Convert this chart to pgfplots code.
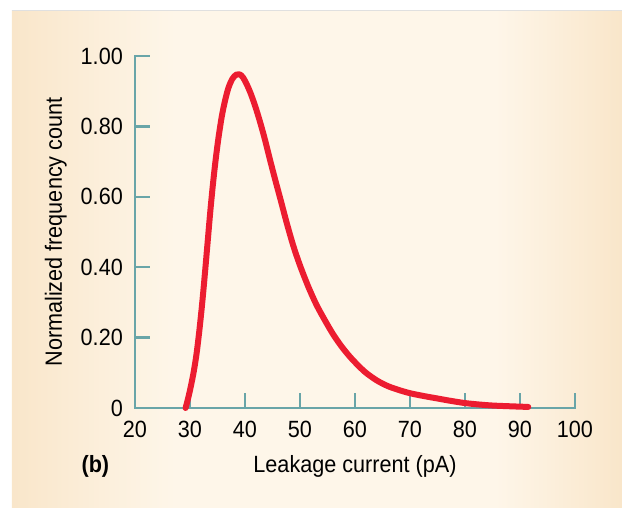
\documentclass[border=0pt]{standalone}
\usepackage{pgfplots}
\pgfplotsset{compat=1.18}
\usepackage{fontspec}
\setmainfont{Liberation Sans}[FakeStretch=0.92]

\definecolor{axisteal}{RGB}{105,165,168}
\definecolor{curvered}{RGB}{236,28,48}
\definecolor{panelside}{RGB}{249,230,202}
\definecolor{panelmid}{RGB}{254,246,233}
\newcommand\tickfont{\fontsize{23.5}{27}\selectfont}
\newcommand\labfont{\fontsize{23.5}{27}\selectfont}

% leakage current distribution
\pgfplotstableread{
x     y
29.2  0.000
29.7  0.030
30.2  0.065
30.7  0.105
31.2  0.155
31.7  0.220
32.2  0.295
32.7  0.380
33.2  0.470
33.7  0.560
34.2  0.640
34.7  0.710
35.2  0.770
35.8  0.830
36.4  0.875
37.0  0.910
37.7  0.935
38.4  0.947
39.0  0.948
39.6  0.940
40.3  0.920
41.0  0.895
41.8  0.860
42.6  0.820
43.5  0.770
44.5  0.708
45.5  0.648
46.5  0.590
47.6  0.525
48.8  0.460
50.0  0.405
51.5  0.345
53.0  0.293
54.5  0.250
56.0  0.210
57.5  0.176
59.0  0.147
60.5  0.122
62.0  0.100
64.0  0.078
66.0  0.062
68.0  0.051
70.0  0.042
72.5  0.034
75.0  0.027
77.5  0.020
80.0  0.014
82.5  0.010
85.0  0.007
88.0  0.005
91.5  0.003
}\leakage

\begin{document}
\begin{tikzpicture}
\path[use as bounding box] (-135pt,-100pt) rectangle (487pt,408pt);
% cream panel, warmer towards both sides
\fill[panelmid] (-123pt,-100pt) rectangle (487pt,397pt);
\shade[left color=panelside, right color=panelmid] (-123pt,-100pt) rectangle (40pt,397pt);
\shade[left color=panelmid, right color=panelside] (360pt,-100pt) rectangle (487pt,397pt);
\draw[black!12, line width=1pt] (-123pt,397pt) -- (487pt,397pt);
\begin{axis}[
    scale only axis, width=440pt, height=352pt,
    at={(0,0)}, anchor=south west,
    xmin=20, xmax=100, ymin=0, ymax=1,
    axis lines*=left,
    axis line style={axisteal, line width=2.5pt, line cap=rect},
    xtick={20,30,...,100}, ytick={0,0.2,0.4,0.6,0.8,1},
    yticklabels={0,0.20,0.40,0.60,0.80,1.00},
    xticklabel={\pgfmathprintnumber[assume math mode=true]{\tick}},
    tick align=inside, major tick length=15pt,
    every tick/.style={axisteal, line width=2.5pt},
    tick label style={font=\tickfont},
    xticklabel style={inner sep=13pt},
    yticklabel style={inner sep=12pt},
    xlabel={Leakage current (pA)},
    ylabel={Normalized frequency count},
    label style={font=\labfont},
    x label style={at={(axis description cs:0.5,-0.182)}, anchor=base},
    y label style={at={(axis description cs:-0.166,0.5)}, anchor=base, rotate=0},
    clip=false,
]
\addplot[curvered, line width=6pt, line cap=round, line join=round, smooth, tension=0.5]
  table[x=x, y=y] {\leakage};
\node[font=\labfont\bfseries, anchor=base west] at (axis description cs:-0.1295,-0.182) {(b)};
\end{axis}
\end{tikzpicture}
\end{document}
